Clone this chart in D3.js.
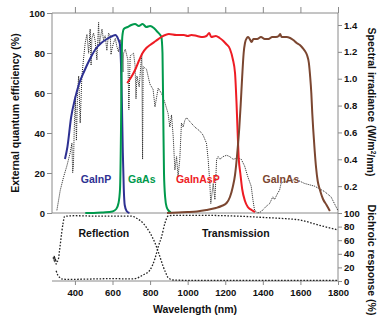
<!DOCTYPE html>
<html>
<head>
<meta charset="utf-8">
<style>
  body { margin: 0; background: #fff; }
  svg { display: block; font-family: "Liberation Sans", Arial, sans-serif; }
  .axis .domain { display: none; }
  .axis .tick line { stroke: #8a8a8a; stroke-width: 1px; }
  .axis .tick text { font-size: 9.5px; font-weight: bold; fill: #111; }
  .frame { stroke: #8a8a8a; stroke-width: 1px; }
  .title { font-size: 10.5px; font-weight: bold; fill: #111; }
  .cell { font-size: 10.5px; font-weight: bold; }
</style>
</head>
<body>
<svg width="378" height="321"></svg>
<script src="https://cdn.jsdelivr.net/npm/d3@7"></script>
<script>
// tick values
const wavelengthTicks = [400, 600, 800, 1000, 1200, 1400, 1600, 1800]
const eqeTicks = [0, 20, 40, 60, 80, 100]
const irrTicks = [0.2, 0.4, 0.6, 0.8, 1.0, 1.2, 1.4]
const dichroicTicks = [0, 20, 40, 60, 80, 100]

// external quantum efficiency, [nm, %]
const gainp = [[347,27],[360,33],[380,48],[400,57],[420,64],[450,71],[480,77],[510,82],[540,85],[570,87],[600,88.5],[615,89],[630,87],[640,84],[645,75],[650,55],[655,30],[660,12],[665,4],[675,1],[690,0]]
const gaas = [[455,0],[500,0],[550,0.3],[600,0.8],[620,2],[632,5],[640,12],[645,40],[648,70],[652,88],[660,92],[680,93],[700,94],[720,94.5],[740,93.5],[760,94.5],[780,93],[800,93.5],[820,92.5],[835,91],[850,89.5],[860,88],[866,80],[870,50],[874,20],[880,8],[888,3],[900,1],[910,0.3]]
const gainasp = [[678,65],[700,68],[720,71.5],[740,76],[760,80],[780,82.5],[800,84],[830,86],[860,88],[900,89.5],[940,89],[980,89],[1000,88.5],[1020,89],[1050,88.5],[1080,88],[1100,88.5],[1115,90],[1125,88],[1150,88.5],[1170,87.5],[1190,86],[1205,84.5],[1225,82],[1240,77],[1252,70],[1260,55],[1266,40],[1272,27],[1280,20],[1290,12],[1305,6],[1320,3],[1340,1.5],[1358,0.5]]
const gainas = [[890,0],[950,0.3],[1000,0.5],[1050,0.8],[1100,1.5],[1150,2.5],[1180,3.5],[1207,5],[1225,8],[1240,13],[1252,19],[1264,30],[1275,43],[1282,54],[1290,68],[1298,80],[1305,85],[1315,87.5],[1322,88],[1330,87],[1340,85.5],[1350,87],[1370,87],[1390,88],[1410,87],[1430,87],[1450,88],[1470,88],[1485,88.5],[1492,89.5],[1500,88],[1527,88],[1545,87.5],[1562,86.5],[1580,85],[1597,84],[1612,82.5],[1624,81],[1635,79],[1645,75],[1652,68],[1658,60],[1663,50],[1668,42],[1676,31],[1683,23],[1692,16],[1704,11.5],[1720,7],[1739,4],[1757,1]]

// spectral irradiance, [nm, W/m2/nm]
const spectrum = [[304,0.02],[322,0.17],[340,0.27],[357,0.35],[375,0.45],[384,0.52],[388,0.3],[392,0.35],[396,0.6],[402,0.87],[408,0.54],[414,0.9],[420,1.02],[428,0.67],[437,1.02],[446,1.15],[455,1.27],[464,1.33],[473,1.19],[481,1.37],[486,1.1],[490,1.3],[499,1.34],[508,1.28],[517,1.14],[526,1.42],[530,1.25],[535,1.3],[544,1.37],[552,1.29],[561,1.32],[570,1.21],[579,1.34],[588,1.32],[592,1.18],[597,1.22],[606,1.27],[615,1.3],[623,1.24],[632,1.2],[641,1.29],[650,1.22],[656,1.05],[659,1.19],[668,1.22],[682,1.14],[687,0.77],[694,1.17],[712,1.19],[720,1.1],[725,0.85],[730,1.02],[742,0.94],[756,1.19],[760,0.4],[763,1.09],[781,1.07],[799,0.96],[816,0.92],[826,0.79],[843,0.93],[861,0.89],[879,0.82],[896,0.74],[905,0.64],[914,0.73],[923,0.57],[932,0.32],[941,0.42],[949,0.27],[958,0.4],[967,0.67],[976,0.64],[985,0.69],[994,0.71],[1012,0.68],[1038,0.64],[1065,0.61],[1082,0.58],[1100,0.52],[1109,0.4],[1118,0.22],[1123,0.07],[1136,0.22],[1145,0.1],[1154,0.4],[1162,0.42],[1171,0.4],[1189,0.42],[1207,0.43],[1224,0.42],[1242,0.4],[1267,0.41],[1285,0.4],[1303,0.35],[1320,0.27],[1338,0.2],[1347,0.1],[1356,0.02],[1373,0],[1391,0.01],[1418,0.05],[1436,0.07],[1453,0.12],[1462,0.1],[1480,0.15],[1489,0.17],[1497,0.22],[1506,0.23],[1540,0.24],[1577,0.25],[1622,0.22],[1675,0.2],[1728,0.16],[1763,0.12],[1781,0.07],[1799,0.02]]

// dichroic response, [nm, %]
const reflection = [[285,35],[288,30],[291,37],[294,28],[297,33],[300,25],[305,28],[312,32],[318,45],[324,58],[330,72],[337,85],[345,95],[400,96],[500,95.5],[600,95.5],[700,95.5],[730,92],[763,85],[799,71],[826,56],[852,36],[870,21],[885,11],[896,5],[923,1.5],[1000,1],[1200,1],[1400,0.8],[1600,0.8],[1800,0.8]]
const transmission = [[300,15],[310,8],[320,5],[330,3],[350,2.5],[400,2.5],[500,3],[600,3.5],[700,3],[728,4],[763,9],[799,16],[826,33],[843,50],[861,65],[879,85],[896,95.6],[930,96.5],[1000,96.5],[1100,96.5],[1200,96],[1300,95],[1400,93.5],[1500,92],[1600,89.5],[1700,82],[1800,75]]

const cells = [
  { name: "GaInP", data: gainp, color: "#2e3192", at: 512 },
  { name: "GaAs", data: gaas, color: "#00994c", at: 756 },
  { name: "GaInAsP", data: gainasp, color: "#ee1c24", at: 1054 },
  { name: "GaInAs", data: gainas, color: "#7b4630", at: 1496 }
]

let svg = d3.select("svg")

let x = d3.scaleLinear().domain([278, 1800]).range([52, 338])
let yEqe = d3.scaleLinear().domain([0, 100]).range([213, 13])
let yIrr = d3.scaleLinear().domain([0, 1.4]).range([213, 25])
let yDich = d3.scaleLinear().domain([0, 100]).range([281, 213])

// frame lines
let frame = [
  [x.range()[0], yEqe(100), x.range()[1], yEqe(100)],
  [x.range()[0], yEqe(100), x.range()[0], yEqe(0)],
  [x.range()[1], yEqe(100), x.range()[1], yDich(0)],
  [x.range()[0], yEqe(0), x.range()[1], yEqe(0)],
  [x.range()[0], yDich(0), x.range()[1], yDich(0)]
]
svg.append("g").selectAll("line")
  .data(frame)
  .join("line")
  .attr("class", "frame")
  .attr("x1", d => d[0]).attr("y1", d => d[1])
  .attr("x2", d => d[2]).attr("y2", d => d[3])

// axes
svg.append("g").attr("class", "axis")
  .attr("transform", `translate(${x.range()[0]},0)`)
  .call(d3.axisLeft(yEqe).tickValues(eqeTicks).tickSize(5).tickPadding(2))

svg.append("g").attr("class", "axis")
  .attr("transform", `translate(${x.range()[1]},0)`)
  .call(d3.axisRight(yIrr).tickValues(irrTicks).tickFormat(d3.format(".1f")).tickSize(4).tickPadding(2))

svg.append("g").attr("class", "axis")
  .attr("transform", `translate(${x.range()[1]},0)`)
  .call(d3.axisRight(yDich).tickValues(dichroicTicks).tickSize(4).tickPadding(2))

svg.append("g").attr("class", "axis")
  .attr("transform", `translate(0,${yDich(0)})`)
  .call(d3.axisBottom(x).tickValues(wavelengthTicks).tickFormat(d3.format("d")).tickSize(4).tickPadding(4))

svg.append("g").attr("class", "axis")
  .attr("transform", `translate(0,${yEqe(100)})`)
  .call(d3.axisTop(x).tickValues(wavelengthTicks).tickFormat("").tickSize(6))

// solar spectrum (dotted)
let irrLine = d3.line()
  .x(d => x(d[0]))
  .y(d => yIrr(d[1]))

svg.append("path")
  .datum(spectrum)
  .attr("d", irrLine)
  .style("fill", "none")
  .style("stroke", "#222")
  .style("stroke-width", "1px")
  .style("stroke-dasharray", "1,1")

// dichroic curves
let dichLine = d3.line()
  .x(d => x(d[0]))
  .y(d => yDich(d[1]))
  .curve(d3.curveMonotoneX)

svg.append("g").selectAll("path")
  .data([reflection, transmission])
  .join("path")
  .attr("d", dichLine)
  .style("fill", "none")
  .style("stroke", "#222")
  .style("stroke-width", "1.3px")
  .style("stroke-dasharray", "1.6,1.6")

// EQE curves
let eqeLine = d3.line()
  .x(d => x(d[0]))
  .y(d => yEqe(d[1]))
  .curve(d3.curveMonotoneX)

svg.append("g").selectAll("path")
  .data(cells)
  .join("path")
  .attr("d", d => eqeLine(d.data))
  .style("fill", "none")
  .style("stroke", d => d.color)
  .style("stroke-width", "2px")
  .style("stroke-linejoin", "round")

svg.append("g").selectAll("text")
  .data(cells)
  .join("text")
  .attr("class", "cell")
  .attr("x", d => x(d.at))
  .attr("y", yEqe(17))
  .attr("dy", "0.35em")
  .attr("text-anchor", "middle")
  .style("fill", d => d.color)
  .text(d => d.name)

// panel labels
svg.append("text").attr("class", "cell")
  .attr("x", x(554)).attr("y", yDich(70)).attr("dy", "0.35em")
  .attr("text-anchor", "middle").style("fill", "#111")
  .text("Reflection")
svg.append("text").attr("class", "cell")
  .attr("x", x(1256)).attr("y", yDich(70)).attr("dy", "0.35em")
  .attr("text-anchor", "middle").style("fill", "#111")
  .text("Transmission")

// axis titles
svg.append("text").attr("class", "title")
  .attr("transform", `translate(15,113) rotate(-90)`)
  .attr("text-anchor", "middle").attr("dy", "0.35em")
  .text("External quantum efficiency (%)")

let irrTitle = svg.append("text").attr("class", "title")
  .attr("transform", `translate(372,102) rotate(90)`)
  .attr("text-anchor", "middle").attr("dy", "0.35em")
irrTitle.append("tspan").text("Spectral irradiance (W/m")
irrTitle.append("tspan").attr("dy", "-0.4em").style("font-size", "6.5px").text("2")
irrTitle.append("tspan").attr("dy", "0.4em").text("/nm)")

svg.append("text").attr("class", "title")
  .attr("transform", `translate(372,260) rotate(90)`)
  .attr("text-anchor", "middle").attr("dy", "0.35em")
  .text("Dichroic response (%)")

svg.append("text").attr("class", "title")
  .attr("x", 195).attr("y", 313)
  .attr("text-anchor", "middle")
  .text("Wavelength (nm)")
</script>
</body>
</html>
